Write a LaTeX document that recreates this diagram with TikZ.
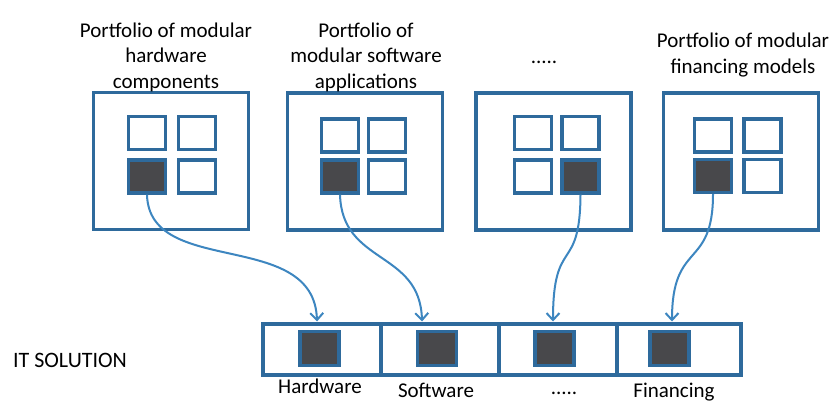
\documentclass[tikz,border=0pt]{standalone}
\usepackage{fontspec}
\setmainfont{Carlito}
\usetikzlibrary{arrows.meta}
\definecolor{frameblue}{HTML}{2E6A9C}
\definecolor{arrowblue}{HTML}{3D86C0}
\definecolor{darkfill}{HTML}{48484B}
\begin{document}
\begin{tikzpicture}[x=1pt,y=-1pt,
  bigbox/.style={draw=frameblue,line width=3.3pt,minimum width=155pt,minimum height=137pt,inner sep=0pt},
  cellbox/.style={draw=frameblue,line width=3.2pt,fill=white,minimum width=37pt,minimum height=33pt,inner sep=0pt},
  darkbox/.style={cellbox,fill=darkfill},
  stripcell/.style={draw=frameblue,line width=3.2pt,minimum height=51pt,inner sep=0pt},
  stripdark/.style={draw=frameblue,line width=3.2pt,fill=darkfill,minimum width=39pt,minimum height=34pt,inner sep=0pt},
  lbl/.style={font=\fontsize{21}{25.5}\selectfont,align=center,inner sep=0pt,text=black},
  link/.style={draw=arrowblue,line width=2pt,-{Straight Barb[length=7pt,width=13pt]}}
]
\useasboundingbox (0,0) rectangle (837,409);
\fill[white] (0,0) rectangle (837,409);

% portfolio boxes
\node[bigbox] (b1) at (171,161) {};
\node[bigbox] (b2) at (365,161.5) {};
\node[bigbox] (b3) at (553.5,161.5) {};
\node[bigbox] (b4) at (741,161.5) {};

% box 1 squares
\node[cellbox] (b1tl) at (147,133) {};
\node[cellbox] (b1tr) at (197,133) {};
\node[darkbox] (b1bl) at (147,176.5) {};
\node[cellbox] (b1br) at (197,176.5) {};
% box 2 squares
\node[cellbox] (b2tl) at (340,135.5) {};
\node[cellbox] (b2tr) at (387,135.5) {};
\node[darkbox] (b2bl) at (340,176.5) {};
\node[cellbox] (b2br) at (387,176.5) {};
% box 3 squares
\node[cellbox] (b3tl) at (533,133) {};
\node[cellbox] (b3tr) at (580.5,133) {};
\node[cellbox] (b3bl) at (533,176.5) {};
\node[darkbox] (b3br) at (580.5,176.5) {};
% box 4 squares
\node[cellbox] (b4tl) at (713,135.5) {};
\node[cellbox] (b4tr) at (762.5,135.5) {};
\node[darkbox] (b4bl) at (713,176) {};
\node[cellbox] (b4br) at (762.5,176) {};

% labels
\node[lbl] (l1) at (166,57) {Portfolio of modular\\hardware\\components};
\node[lbl] (l2) at (366,57) {Portfolio of\\modular software\\applications};
\node[lbl,anchor=base] (l3) at (544,64) {.....};
\node[lbl] (l4) at (743,55) {Portfolio of modular\\financing models};

% IT solution strip
\node[stripcell,minimum width=118pt] (c1) at (322,349.5) {};
\node[stripcell,minimum width=118pt] (c2) at (440,349.5) {};
\node[stripcell,minimum width=118pt] (c3) at (558,349.5) {};
\node[stripcell,minimum width=124pt] (c4) at (679,349.5) {};

\node[stripdark] (d1) at (319.5,348.5) {};
\node[stripdark] (d2) at (437,348.5) {};
\node[stripdark] (d3) at (554.5,348.5) {};
\node[stripdark] (d4) at (669.5,348.5) {};

\node[lbl,anchor=base] (h1) at (320,393) {Hardware};
\node[lbl,anchor=base] (h2) at (436,397) {Software};
\node[lbl,anchor=base] (h3) at (564,394) {.....};
\node[lbl,anchor=base] (h4) at (674,397) {Financing};

\node[lbl,font=\fontsize{22}{26}\selectfont] (it) at (70,360) {IT SOLUTION};

% arrow targets on the strip's top edge
\coordinate (t1) at (317,321.5);
\coordinate (t2) at (422,321.5);
\coordinate (t3) at (553,321.5);
\coordinate (t4) at (672,321.5);

\draw[link] (b1bl.south) .. controls (149,278) and (314,228) .. (t1);
\draw[link] (b2bl.south) .. controls (342,265) and (420,250) .. (t2);
\draw[link] (b3br.south) .. controls (580,275) and (553,235) .. (t3);
\draw[link] (b4bl.south) .. controls (713,270) and (672,240) .. (t4);
\end{tikzpicture}
\end{document}
